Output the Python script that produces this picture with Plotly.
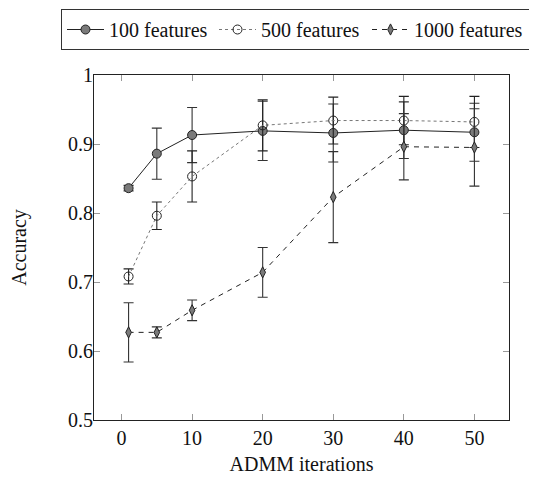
import plotly.graph_objects as go

iterations = [1, 5, 10, 20, 30, 40, 50]
acc_100 = [0.836, 0.886, 0.913, 0.919, 0.916, 0.920, 0.917]
err_100 = [0.004, 0.037, 0.040, 0.043, 0.042, 0.041, 0.042]
acc_500 = [0.708, 0.796, 0.853, 0.927, 0.934, 0.934, 0.932]
err_500 = [0.011, 0.020, 0.037, 0.037, 0.034, 0.035, 0.037]
acc_1000 = [0.627, 0.627, 0.659, 0.714, 0.823, 0.896, 0.895]
err_1000 = [0.043, 0.008, 0.015, 0.036, 0.066, 0.048, 0.056]
x_ticks = [0, 10, 20, 30, 40, 50]
y_ticks = [0.5, 0.6, 0.7, 0.8, 0.9, 1.0]
y_tick_text = ["0.5", "0.6", "0.7", "0.8", "0.9", "1"]

FONT = "'Times New Roman', 'Liberation Serif', Tinos, 'DejaVu Serif', serif"
FS = 20

W, H = 537, 479
ML, MR, MT, MB = 86, 36, 67, 67
PW, PH = W - ML - MR, H - MT - MB

fig = go.Figure()

fig.add_trace(go.Scatter(
    x=iterations, y=acc_100, name="100 features", mode="lines+markers",
    line=dict(color="#222222", width=1),
    marker=dict(symbol="circle", size=9, color="#7a7a7a", line=dict(color="#222222", width=1)),
    error_y=dict(type="data", array=err_100, visible=True, color="#333333", thickness=1.1, width=5),
    legendwidth=100,
))
fig.add_trace(go.Scatter(
    x=iterations, y=acc_500, name="500 features", mode="lines+markers",
    line=dict(color="#777777", width=1, dash="dot"),
    marker=dict(symbol="circle", size=9, color="rgba(255,255,255,0)", line=dict(color="#222222", width=1)),
    error_y=dict(type="data", array=err_500, visible=True, color="#222222", thickness=1.1, width=5),
    legendwidth=101,
))
fig.add_trace(go.Scatter(
    x=iterations, y=acc_1000, name="1000 features", mode="lines+markers",
    line=dict(color="#222222", width=1, dash="5px,5px"),
    marker=dict(symbol="diamond-tall", size=8, color="#7a7a7a", line=dict(color="#222222", width=1)),
    error_y=dict(type="data", array=err_1000, visible=True, color="#333333", thickness=1.1, width=5),
    legendwidth=135,
))

axis_common = dict(
    showline=True, linecolor="#222222", linewidth=1, mirror="ticks",
    ticks="inside", ticklen=6, tickcolor="#999999", tickwidth=1,
    showgrid=False, zeroline=False,
    tickfont=dict(family=FONT, size=FS, color="#111111"),
)

fig.update_xaxes(
    range=[-3.9, 54.9], tickvals=x_ticks,
    title=dict(text="ADMM iterations", font=dict(family=FONT, size=FS, color="#111111"), standoff=8),
    **axis_common,
)
fig.update_yaxes(
    range=[0.5, 1.0], tickvals=y_ticks, ticktext=y_tick_text,
    ticklabelstandoff=-4,
    title=dict(text="Accuracy", font=dict(family=FONT, size=FS, color="#111111"), standoff=36),
    **axis_common,
)

fig.update_layout(
    width=W, height=H,
    margin=dict(l=ML, r=MR, t=MT, b=MB, autoexpand=False),
    plot_bgcolor="white", paper_bgcolor="white",
    font=dict(family=FONT, size=FS, color="#111111"),
    showlegend=True,
    legend=dict(
        orientation="h", xref="paper", yref="paper",
        x=(53 - ML) / PW, y=1 + (MT - 1) / PH, xanchor="left", yanchor="top",
        bordercolor="#333333", borderwidth=1, bgcolor="white",
        font=dict(family=FONT, size=FS, color="#111111"),
        itemwidth=37, tracegroupgap=0, entrywidthmode="pixels",
    ),
)

fig.write_html("out.html")
